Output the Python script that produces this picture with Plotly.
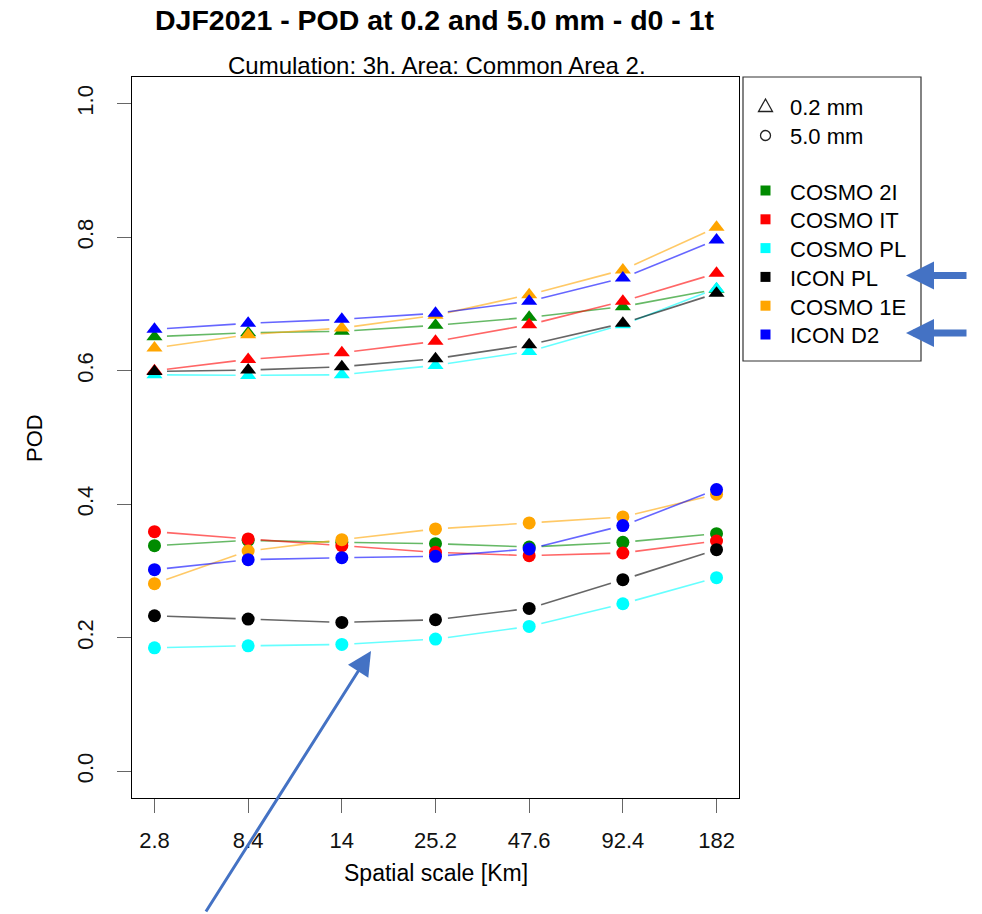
import math
import plotly.graph_objects as go

# ---------------- data ----------------
scales = ["2.8", "8.4", "14", "25.2", "47.6", "92.4", "182"]
models = ["COSMO 2I", "COSMO IT", "COSMO PL", "ICON PL", "COSMO 1E", "ICON D2"]
model_colors = ["#008B00", "#FF0000", "#00FFFF", "#000000", "#FFA500", "#0000FF"]

# POD at 0.2 mm threshold (triangles)
pod02_cosmo2i = [0.651, 0.657, 0.659, 0.668, 0.680, 0.696, 0.722]
pod02_cosmoit = [0.600, 0.617, 0.627, 0.644, 0.669, 0.704, 0.746]
pod02_cosmopl = [0.594, 0.593, 0.594, 0.608, 0.629, 0.669, 0.723]
pod02_iconpl = [0.599, 0.601, 0.606, 0.618, 0.639, 0.671, 0.716]
pod02_cosmo1e = [0.634, 0.654, 0.664, 0.683, 0.714, 0.751, 0.815]
pod02_icond2 = [0.662, 0.671, 0.677, 0.686, 0.704, 0.739, 0.796]

# POD at 5.0 mm threshold (circles)
pod50_cosmo2i = [0.338, 0.346, 0.343, 0.341, 0.336, 0.343, 0.356]
pod50_cosmoit = [0.359, 0.348, 0.338, 0.328, 0.323, 0.327, 0.345]
pod50_cosmopl = [0.185, 0.188, 0.190, 0.198, 0.217, 0.251, 0.290]
pod50_iconpl = [0.233, 0.228, 0.223, 0.227, 0.244, 0.287, 0.332]
pod50_cosmo1e = [0.281, 0.330, 0.347, 0.363, 0.372, 0.381, 0.415]
pod50_icond2 = [0.302, 0.317, 0.320, 0.322, 0.333, 0.368, 0.422]

y_ticks = [0.0, 0.2, 0.4, 0.6, 0.8, 1.0]
y_tick_labels = ["0.0", "0.2", "0.4", "0.6", "0.8", "1.0"]

pod02 = [pod02_cosmo2i, pod02_cosmoit, pod02_cosmopl, pod02_iconpl, pod02_cosmo1e, pod02_icond2]
pod50 = [pod50_cosmo2i, pod50_cosmoit, pod50_cosmopl, pod50_iconpl, pod50_cosmo1e, pod50_icond2]

# ---------------- layout geometry ----------------
W, H = 982, 914
ML, MR, MT, MB = 132, 243, 77, 116
PW, PH = W - ML - MR, H - MT - MB
XR = [-0.24, len(scales) - 1 + 0.24]
YR = [-0.04, 1.04]
XPX = PW / (XR[1] - XR[0])
YPX = PH / (YR[1] - YR[0])
FONT = "Liberation Sans, Arial, sans-serif"


def px(x):
    return (x - ML) / PW


def py(y):
    return (H - MB - y) / PH


def gapped(vals, gap=12.5):
    """R type='b' style: line segments that stop short of the points."""
    xs, ys = [], []
    for i in range(len(vals) - 1):
        y0, y1 = vals[i], vals[i + 1]
        L = math.hypot(XPX, (y1 - y0) * YPX)
        t = gap / L
        xs += [i + t, i + 1 - t, None]
        ys += [y0 + t * (y1 - y0), y1 - t * (y1 - y0), None]
    return xs, ys


def rgba(hexc, a):
    h = hexc.lstrip("#")
    r, g, b = int(h[0:2], 16), int(h[2:4], 16), int(h[4:6], 16)
    return f"rgba({r},{g},{b},{a})"


fig = go.Figure()
xidx = list(range(len(scales)))

for name, col, v02, v50 in zip(models, model_colors, pod02, pod50):
    for vals, sym in ((v02, "triangle-up"), (v50, "circle")):
        gx, gy = gapped(vals)
        fig.add_trace(go.Scatter(x=gx, y=gy, mode="lines",
                                 line=dict(color=rgba(col, 0.6), width=1.6),
                                 hoverinfo="skip", showlegend=False))
        fig.add_trace(go.Scatter(x=xidx, y=vals, mode="markers", name=name,
                                 marker=dict(symbol=sym, color=col,
                                             size=13 if sym == "circle" else 14,
                                             line=dict(width=0)),
                                 showlegend=False))

shapes = []
annotations = []

# legend box
shapes.append(dict(type="rect", xref="paper", yref="paper",
                   x0=px(743), x1=px(921), y0=py(361), y1=py(77),
                   line=dict(color="#333333", width=1.2), fillcolor="white", layer="below"))
# legend keys: threshold symbols
tx, ty = 765.5, 105.5
shapes.append(dict(type="path", xref="paper", yref="paper",
                   path=f"M {px(tx-7)},{py(ty+6)} L {px(tx+7)},{py(ty+6)} L {px(tx)},{py(ty-6.5)} Z",
                   line=dict(color="#222222", width=1.3)))
cx, cy, r = 765.5, 135.5, 5
shapes.append(dict(type="circle", xref="paper", yref="paper",
                   x0=px(cx - r), x1=px(cx + r), y0=py(cy + r), y1=py(cy - r),
                   line=dict(color="#222222", width=1.3)))
annotations.append(dict(text="0.2 mm", x=px(788), y=py(108), xref="paper", yref="paper",
                        xanchor="left", yanchor="middle", showarrow=False,
                        font=dict(family=FONT, size=22, color="black")))
annotations.append(dict(text="5.0 mm", x=px(788), y=py(137), xref="paper", yref="paper",
                        xanchor="left", yanchor="middle", showarrow=False,
                        font=dict(family=FONT, size=22, color="black")))
leg_y0, leg_dy = 190.5, 28.8
for i, (name, col) in enumerate(zip(models, model_colors)):
    yy = leg_y0 + i * leg_dy
    shapes.append(dict(type="rect", xref="paper", yref="paper",
                       x0=px(760.5), x1=px(770.5), y0=py(yy + 5), y1=py(yy - 5),
                       line=dict(width=0), fillcolor=col))
    annotations.append(dict(text=name, x=px(788), y=py(yy + 1.5), xref="paper", yref="paper",
                            xanchor="left", yanchor="middle", showarrow=False,
                            font=dict(family=FONT, size=22, color="black")))

# titles
annotations.append(dict(text="<b>DJF2021 - POD at 0.2 and 5.0 mm - d0 - 1t</b>",
                        x=px(435), y=py(20), xref="paper", yref="paper",
                        xanchor="center", yanchor="middle", showarrow=False,
                        font=dict(family=FONT, size=28.5, color="black")))
annotations.append(dict(text="Cumulation: 3h. Area: Common Area 2.",
                        x=px(437), y=py(65), xref="paper", yref="paper",
                        xanchor="center", yanchor="middle", showarrow=False,
                        font=dict(family=FONT, size=24, color="black")))
annotations.append(dict(text="Spatial scale [Km]",
                        x=px(436), y=py(873), xref="paper", yref="paper",
                        xanchor="center", yanchor="middle", showarrow=False,
                        font=dict(family=FONT, size=23, color="black")))
annotations.append(dict(text="POD", textangle=-90,
                        x=px(34), y=py(438), xref="paper", yref="paper",
                        xanchor="center", yanchor="middle", showarrow=False,
                        font=dict(family=FONT, size=22, color="black")))

# highlight arrows (overlaid in the reference)
ARROW = "#4472C4"
for yy in (275.5, 333):
    annotations.append(dict(text="", x=px(906), y=py(yy), xref="paper", yref="paper",
                            ax=62, ay=0, showarrow=True, arrowhead=2, arrowsize=0.8,
                            arrowwidth=7, arrowcolor=ARROW, standoff=0))
annotations.append(dict(text="", x=px(371), y=py(651), xref="paper", yref="paper",
                        ax=-166, ay=262, showarrow=True, arrowhead=2, arrowsize=1.6,
                        arrowwidth=3, arrowcolor=ARROW, standoff=0))

fig.update_layout(
    width=W, height=H,
    margin=dict(l=ML, r=MR, t=MT, b=MB, pad=0),
    paper_bgcolor="white", plot_bgcolor="white",
    showlegend=False,
    font=dict(family=FONT, size=22, color="black"),
    shapes=shapes, annotations=annotations,
    xaxis=dict(range=XR, tickmode="array", tickvals=xidx, ticktext=scales,
               showgrid=False, zeroline=False, showline=True, mirror=True,
               linecolor="black", linewidth=1.2,
               ticks="outside", ticklen=14, tickcolor="#666666", tickwidth=1.2,
               ticklabelstandoff=8,
               tickfont=dict(family=FONT, size=22, color="#111111")),
    yaxis=dict(range=YR, tickmode="array", tickvals=y_ticks, ticktext=y_tick_labels,
               showgrid=False, zeroline=False, showline=True, mirror=True,
               linecolor="black", linewidth=1.2,
               ticks="outside", ticklen=14, tickcolor="#666666", tickwidth=1.2,
               tickangle=-90, ticklabelstandoff=15,
               tickfont=dict(family=FONT, size=22, color="#111111")),
)

fig.write_html("out.html")
